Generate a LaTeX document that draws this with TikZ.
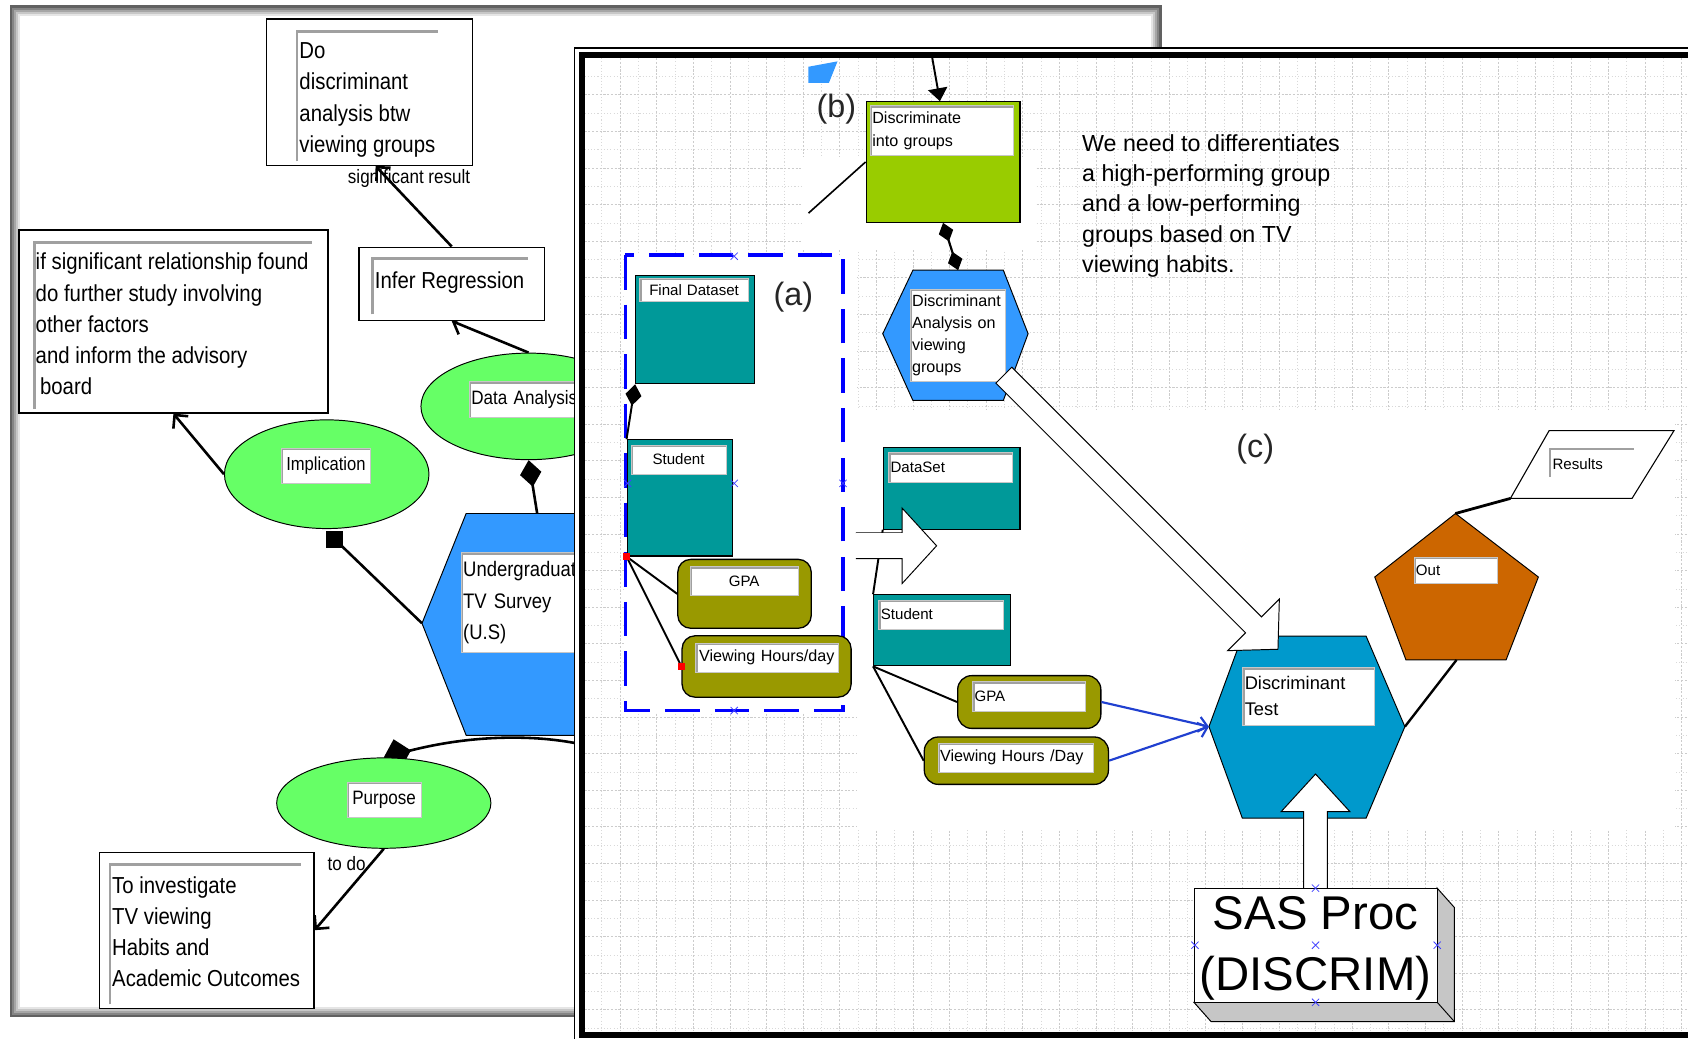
\documentclass[tikz,border=0pt]{standalone}
\usepackage{fontspec}
\setmainfont{Liberation Sans}
\newfontfamily\narrowfont[FakeStretch=0.88]{Liberation Sans}
\usetikzlibrary{arrows.meta,calc,shapes.geometric,shapes.misc,backgrounds}
\pgfdeclarelayer{leftlinks}
\pgfsetlayers{background,leftlinks,main}

\definecolor{ellgreen}{HTML}{66FF66}
\definecolor{hexblue}{HTML}{3399FF}
\definecolor{boxteal}{HTML}{009999}
\definecolor{boxolive}{HTML}{999900}
\definecolor{limegreen}{HTML}{99CC00}
\definecolor{testblue}{HTML}{0099CC}
\definecolor{outorange}{HTML}{CC6600}
\definecolor{bevelgray}{HTML}{A0A0A0}
\definecolor{linkblue}{HTML}{2040D0}
\definecolor{selblue}{HTML}{0000FF}

\tikzset{
  fs/.style 2 args={font=\fontsize{#1}{#2}\selectfont},
  nfs/.style 2 args={font=\narrowfont\fontsize{#1}{#2}\selectfont},
  note/.style={draw=black, line width=1.2pt, fill=white, anchor=north west, inner sep=0pt},
  bevel/.style={draw=bevelgray, line width=2.4pt},
  ltext/.style={anchor=north west, inner sep=0pt, align=left, nfs={21.5}{29}},
  field/.style={fill=white, draw=black!22, line width=0.5pt, anchor=north west,
    inner sep=0pt, inner xsep=2pt,
    path picture={\draw[bevelgray, line width=2pt]
      ([xshift=1pt]path picture bounding box.south west) --
      ([xshift=1pt,yshift=-1pt]path picture bounding box.north west) --
      ([yshift=-1pt]path picture bounding box.north east);}},
  ell/.style={ellipse, draw=black, line width=0.9pt, fill=ellgreen, inner sep=0pt},
  lconn/.style={line width=2.4pt},
  barbtip/.style={-{Straight Barb[length=9pt,width=18pt]}},
  rconn/.style={line width=1.8pt},
  tealbox/.style={draw=black, line width=1pt, fill=boxteal, anchor=north west, inner sep=0pt},
  olivebox/.style={draw=black, line width=1.2pt, fill=boxolive, anchor=north west,
    inner sep=0pt, rounded corners=12pt},
  hollow/.style={draw=black, line width=0.9pt, fill=white},
  handle/.style={cross out, draw=blue!75, line width=0.7pt, minimum size=6pt, inner sep=0pt},
  redmark/.style={fill=red, minimum size=6pt, inner sep=0pt},
  sqmark/.style={fill=black, minimum size=16pt, inner sep=0pt},
  gridminor/.style={draw=gray!30, line width=0.6pt, dash pattern=on 1pt off 2pt},
  gridmajor/.style={draw=gray!40, line width=0.6pt, dash pattern=on 2pt off 1.5pt},
  tag/.style={fs={30}{30}, inner sep=0pt, text=black!85},
}

\begin{document}
\begin{tikzpicture}[x=1pt,y=-1pt]
\useasboundingbox (0,0) rectangle (1568,965);

% ---------- first window: background and shaded frame ----------
\begin{pgfonlayer}{background}
  \fill[white] (0,0) rectangle (1568,965);
  \fill[white] (9,5) rectangle (1079,945);
  \foreach \i/\c in {0/62,1/48,2/35,3/22,4/10}
    \draw[black!\c, line width=2pt] ({10+2*\i},{6+2*\i}) rectangle ({1078-2*\i},{944-2*\i});
\end{pgfonlayer}

% ---------- note boxes ----------
\node[note, minimum width=191pt, minimum height=136pt] (doNote) at (247,17) {};
\draw[bevel] (276,150) -- (276,29) -- (407,29);
\node[ltext] (doText) at (278,39.5) {Do\\discriminant\\analysis btw\\viewing groups};

\node[note, minimum width=287pt, minimum height=170pt] (ifNote) at (17,213) {};
\draw[bevel] (32,380) -- (32,225) -- (290,225);
\node[ltext] (ifText) at (33,235) {if significant relationship found\\do further study involving\\other factors\\and inform the advisory\\\hspace*{4pt}board};

\node[note, minimum width=172pt, minimum height=68pt] (infer) at (333,229) {};
\draw[bevel] (346,292) -- (346,240) -- (490,240);
\node[ltext] (inferText) at (348,252) {Infer Regression};

\node[note, minimum width=199pt, minimum height=145pt] (toNote) at (92,791) {};
\draw[bevel] (102,933) -- (102,803) -- (280,803);
\node[ltext] (toText) at (104,814) {To investigate\\TV viewing\\Habits and\\Academic Outcomes};

\node[nfs={18}{20}, inner sep=0pt] (sigLbl) at (380,166) {significant result};
\node[nfs={18}{20}, inner sep=0pt] (todoLbl) at (322,802) {to do};

% ---------- ellipses ----------
\node[ell, minimum width=200pt, minimum height=99pt] (dataA) at (491,377.5) {};
\node[field, minimum width=140pt, minimum height=33pt, text width=136pt, align=left,
      nfs={18}{20}] (dataAL) at (435.5,354) {Data Analysis};

\node[ell, minimum width=190pt, minimum height=101pt] (impl) at (303.5,440.5) {};
\node[field, minimum width=83pt, minimum height=33pt, text width=79pt, align=center,
      nfs={17.5}{20}] (implL) at (261,416) {Implication};

\node[ell, minimum width=199pt, minimum height=84pt] (purp) at (356.5,746) {};
\node[field, minimum width=69pt, minimum height=33pt, text width=65pt, align=center,
      nfs={18}{20}] (purpL) at (322,726) {Purpose};

% ---------- survey hexagon ----------
\draw[draw=black, line width=0.9pt, fill=hexblue]
  (640,477) -- (433,477) -- (392,579) -- (433,683) -- (640,683) -- cycle;
\coordinate (ugL) at (392,579);
\coordinate (ugT) at (499,477);
\coordinate (ugFar) at (565,698);
\node[field, minimum width=150pt, minimum height=93pt, text width=146pt, align=left,
      nfs={19.5}{29}] (ugLabel) at (428,513) {Undergraduate\\TV Survey\\(U.S)};

\node[sqmark] (implSq) at (311,501) {};

% ---------- links of the first window ----------
\begin{pgfonlayer}{leftlinks}
  \draw[lconn, barbtip] (infer.north) -- ($(doNote.south west)!0.53!(doNote.south east)$);
  \draw[lconn, barbtip] (dataA.north) -- (infer.south);
  \draw[lconn, barbtip] (impl.west) -- (ifNote.south);
  \draw[lconn] (ugL) -- (implSq.center);
  \draw[lconn, -{Diamond[length=25pt,width=20pt]}] (ugT) -- (dataA.south);
  \draw[lconn, -{Diamond[length=26pt,width=28pt]}] (ugFar) .. controls (510,680) and (440,682) .. (purp.north);
  \draw[lconn, barbtip] (purp.south) -- (toNote.east);
\end{pgfonlayer}

% ---------- second window ----------
\fill[white] (533,44) rectangle (1568,965);
\foreach \x in {559,593,...,1568} \draw[gridminor] (\x,54) -- (\x,958);
\foreach \x in {576,610,...,1568} \draw[gridmajor] (\x,54) -- (\x,958);
\foreach \y in {71,105,...,958} \draw[gridminor] (543,\y) -- (1568,\y);
\foreach \y in {88,122,...,958} \draw[gridmajor] (543,\y) -- (1568,\y);
\fill[white] (581,237) rectangle (796,662);
\fill[white] (796,381) rectangle (1556,770);
\fill[white] (746,146) rectangle (962,232);
\draw[line width=1.2pt] (533.6,965) -- (533.6,44.6) -- (1568,44.6);
\draw[line width=5pt] (1568,51) -- (540.5,51) -- (540.5,961.5) -- (1568,961.5);

% ---------- part (b) ----------
\fill[hexblue] (751,62) -- (778,57) -- (770,77) -- (751,77) -- cycle;
\node[tag] (tagB) at (777,101) {(b)};

\node[draw=black, line width=1pt, fill=limegreen, anchor=north west, inner sep=0pt,
      minimum width=143pt, minimum height=112pt] (discG) at (804,94) {};
\node[field, minimum width=133pt, minimum height=46pt, text width=129pt, align=left,
      fs={15}{21}] (discGL) at (808,98) {Discriminate\\into groups};
\coordinate (topIn) at (866,54);
\coordinate (bLeftEnd) at (751,198);
\draw[rconn, -{Triangle[length=12pt,width=18pt]}] (topIn) -- ($(discG.north west)!0.48!(discG.north east)$);
\draw[line width=1.5pt] (discG.west) -- (bLeftEnd);

\draw[draw=black, line width=0.9pt, fill=hexblue]
  (848,251) -- (932,251) -- (955,310) -- (932,372) -- (848,372) -- (820,310) -- cycle;
\coordinate (daHexTop) at (890,251);
\node[field, minimum width=89pt, minimum height=86pt, text width=85pt, align=left,
      fs={15}{20.5}] (daHexL) at (845,268) {Discriminant\\Analysis on\\viewing\\groups};
\draw[line width=2pt, {Diamond[length=18pt,width=14pt]}-{Diamond[length=18pt,width=14pt]}]
  (discG.south) -- (daHexTop);

\node[fs={21.6}{28}, anchor=north west, inner sep=0pt, align=left] (needText) at (1005,125)
  {We need to differentiates\\a high-performing group\\and a low-performing\\groups based on TV\\viewing habits.};

% ---------- part (a) ----------
\draw[selblue, line width=3.5pt, dash pattern=on 32pt off 14pt] (581,237) rectangle (783,660);
\node[tag] (tagA) at (737,276) {(a)};

\node[tealbox, minimum width=110pt, minimum height=101pt] (fd) at (590,255) {};
\node[field, minimum width=101pt, minimum height=22pt, text width=97pt, align=center,
      fs={14}{16}] (fdL) at (594,258) {Final Dataset};
\node[tealbox, minimum width=98pt, minimum height=108pt] (stA) at (582,408) {};
\node[field, minimum width=88pt, minimum height=27pt, text width=84pt, align=center,
      fs={14}{16}] (stAL) at (586,413) {Student};
\node[olivebox, minimum width=124pt, minimum height=64pt] (gpaA) at (629,519) {};
\node[field, minimum width=100pt, minimum height=27pt, text width=96pt, align=center,
      fs={14}{16}] (gpaAL) at (641,526) {GPA};
\node[olivebox, minimum width=157pt, minimum height=57pt] (vhA) at (633,590) {};
\node[field, minimum width=132pt, minimum height=27pt, text width=128pt, align=center,
      fs={15}{17}] (vhAL) at (646,597) {Viewing Hours/day};

\draw[rconn, -{Diamond[length=20pt,width=15pt]}] (stA.north west) -- (fd.south west);
\draw[rconn] (stA.south west) -- (gpaA.west);
\draw[rconn] (stA.south west) -- (vhA.west);
\node[redmark] (redA) at (stA.south west) {};
\node[redmark] (redB) at (vhA.west) {};
\foreach \n/\p in {h1/{(682,238)},h2/{(682,660)},h3/{(583,449)},h4/{(682,449)},h5/{(783,449)}}
  \node[handle] (\n) at \p {};

% ---------- part (c) ----------
\node[tag] (tagC) at (1166,417) {(c)};

\node[tealbox, minimum width=127pt, minimum height=76pt] (dsC) at (820,415) {};
\node[field, minimum width=115pt, minimum height=28pt, text width=111pt, align=left,
      fs={14}{16}] (dsCL) at (825,420) {DataSet};
\node[tealbox, minimum width=127pt, minimum height=66pt] (stC) at (811,552) {};
\node[field, minimum width=116pt, minimum height=27pt, text width=112pt, align=left,
      fs={14}{16}] (stCL) at (816,557) {Student};
\node[olivebox, rounded corners=13pt, minimum width=133pt, minimum height=49pt] (gpaC) at (889,627) {};
\node[field, minimum width=105pt, minimum height=27pt, text width=101pt, align=left,
      fs={14}{16}] (gpaCL) at (903,633) {GPA};
\node[olivebox, rounded corners=13pt, minimum width=171pt, minimum height=44pt] (vhC) at (858,684) {};
\node[field, minimum width=144pt, minimum height=27pt, text width=140pt, align=left,
      fs={15}{17}] (vhCL) at (871,690) {Viewing Hours /Day};

\draw[rconn] (dsC.south west) -- (stC.north west);
\draw[rconn] (stC.south west) -- (gpaC.west);
\draw[rconn] (stC.south west) -- (vhC.west);

% hollow arrow from (a) to (c)
\draw[hollow] (795,495) -- (838,495) -- (838,472) -- (870,507) -- (838,542) -- (838,519) -- (795,519);
\fill[white] (795.5,495.5) rectangle (838.4,518.5);

% discriminant test hexagon
\draw[draw=black, line width=0.9pt, fill=testblue]
  (1154,591) -- (1269,591) -- (1305,675) -- (1269,760) -- (1154,760) -- (1123,675) -- cycle;
\coordinate (testL) at (1123,675);
\coordinate (testR) at (1305,675);
\node[field, minimum width=122pt, minimum height=53pt, text width=118pt, align=left,
      fs={17}{24}] (testLbl) at (1154,620) {Discriminant\\Test};

\draw[linkblue, line width=2pt, -{Straight Barb[length=8pt,width=14pt]}] (gpaC.east) -- (testL);
\draw[linkblue, line width=2pt, -{Straight Barb[length=8pt,width=14pt]}] (vhC.east) -- (testL);

% output pentagon and results
\draw[draw=black, line width=0.9pt, fill=outorange]
  (1352,477) -- (1429,536) -- (1399,613) -- (1306,613) -- (1277,536) -- cycle;
\coordinate (pentTop) at (1352,477);
\coordinate (pentBot) at (1353,613);
\node[field, minimum width=78pt, minimum height=25pt, text width=74pt, align=left,
      fs={14}{16}] (outL) at (1313,517) {Out};

\draw[draw=black, line width=1pt, fill=white] (1439,400) -- (1555,400) -- (1516,463) -- (1403,463) -- cycle;
\coordinate (resBL) at (1403,463);
\draw[bevelgray, line width=2pt] (1440,443) -- (1440,417) -- (1518,417);
\node[fs={14}{16}, anchor=west, inner sep=0pt] (resText) at (1442,431) {Results};

\draw[line width=2.2pt] (testR) -- (pentBot);
\draw[line width=2.6pt] (pentTop) -- (resBL);

% hollow arrow from the analysis hexagon to the test
\draw[hollow] (939.9,341.1) -- (1171.8,573.0) -- (1188.4,556.4) -- (1187.1,603.1)
  -- (1140.4,604.4) -- (1157.0,587.8) -- (925.1,355.9) -- cycle;

% hollow arrow from the procedure to the test
\draw[hollow] (1211,825) -- (1211,754) -- (1190,754) -- (1222,719) -- (1254,754) -- (1233,754) -- (1233,825);

% SAS procedure block with depth
\draw[draw=black, line width=0.9pt, fill=gray!45]
  (1335,825) -- (1351,843) -- (1351,949) -- (1125,949) -- (1109,931) -- (1335,931) -- cycle;
\draw[line width=0.9pt] (1335,931) -- (1351,949);
\node[draw=black, line width=1pt, fill=white, anchor=north west, inner sep=0pt,
      minimum width=226pt, minimum height=106pt] (sas) at (1109,825) {};
\node[fs={44}{57}, align=center, inner sep=0pt] (sasText) at (1222,881) {SAS Proc\\(DISCRIM)};
\foreach \n/\p in {s1/{(1222,825)},s2/{(1110,878)},s3/{(1222,878)},s4/{(1335,878)},s5/{(1222,931)}}
  \node[handle] (\n) at \p {};

\end{tikzpicture}
\end{document}
